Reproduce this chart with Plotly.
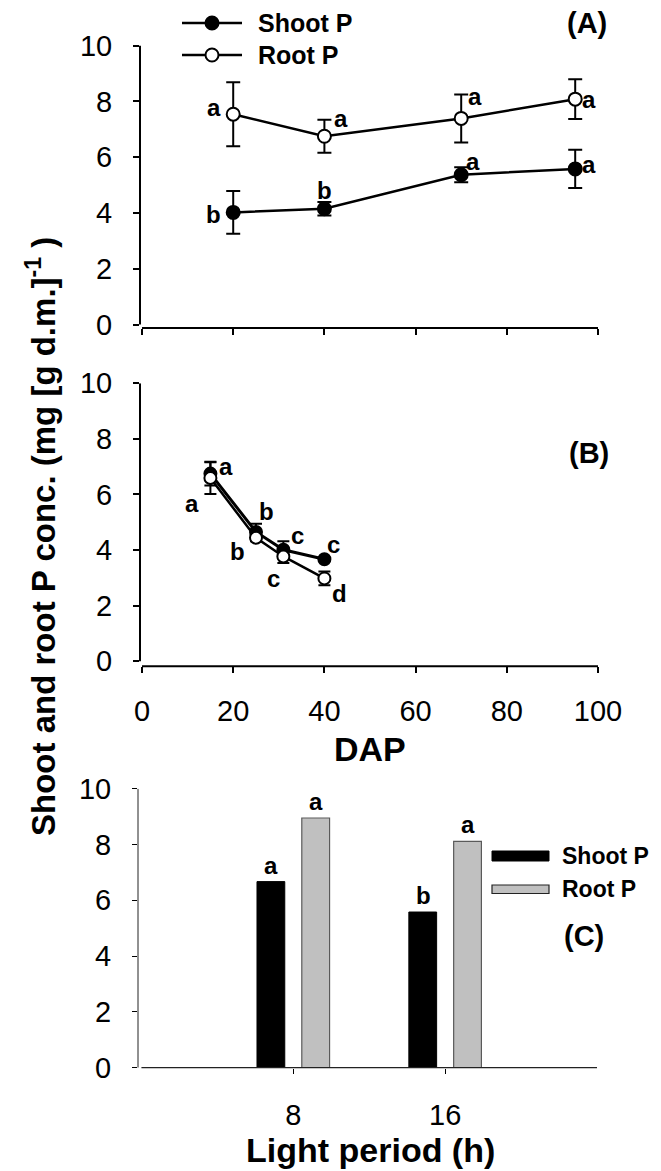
import plotly.graph_objects as go

# ---------------- data ----------------
# Panel A (DAP experiment 1)
dap_a = [20, 40, 70, 95]
shoot_a = [4.02, 4.15, 5.37, 5.58]
shoot_a_err = [0.77, 0.24, 0.27, 0.69]
root_a = [7.54, 6.75, 7.39, 8.08]
root_a_err = [1.15, 0.59, 0.86, 0.71]
shoot_a_letters = ["b", "b", "a", "a"]
root_a_letters = ["a", "a", "a", "a"]

# Panel B (DAP experiment 2)
dap_b = [15, 25, 31, 40]
shoot_b = [6.75, 4.65, 4.01, 3.67]
shoot_b_err = [0.43, 0.30, 0.31, 0.05]
root_b = [6.59, 4.44, 3.77, 2.98]
root_b_err = [0.57, 0.12, 0.24, 0.25]
shoot_b_letters = ["a", "b", "c", "c"]
root_b_letters = ["a", "b", "c", "d"]

# Panel C (light period)
light = [8, 16]
shoot_c = [6.67, 5.58]
root_c = [8.95, 8.11]
shoot_c_letters = ["a", "b"]
root_c_letters = ["a", "a"]

series_names = ["Shoot P", "Root P"]
y_ticks = [0, 2, 4, 6, 8, 10]
dap_ticks = [0, 20, 40, 60, 80, 100]

# ---------------- styling helpers ----------------
W, H = 661, 1171
OFF = 8  # page offset of the figure inside the browser window
FONT = "Arial, Liberation Sans, sans-serif"

def px_x(p):
    return (p - OFF) / W

def px_y(p):
    return 1 - (p - OFF) / H

fig = go.Figure()

# Panel A traces
fig.add_trace(go.Scatter(
    x=dap_a, y=root_a, mode="lines+markers", name=series_names[1],
    line=dict(color="black", width=2.5),
    marker=dict(symbol="circle", size=13, color="white", line=dict(color="black", width=2)),
    error_y=dict(type="data", array=root_a_err, color="black", thickness=2, width=7),
    xaxis="x", yaxis="y", showlegend=False))
fig.add_trace(go.Scatter(
    x=dap_a, y=shoot_a, mode="lines+markers", name=series_names[0],
    line=dict(color="black", width=2.5),
    marker=dict(symbol="circle", size=13, color="black", line=dict(color="black", width=2)),
    error_y=dict(type="data", array=shoot_a_err, color="black", thickness=2, width=7),
    xaxis="x", yaxis="y", showlegend=False))

# Panel B traces
fig.add_trace(go.Scatter(
    x=dap_b, y=shoot_b, mode="lines+markers", name=series_names[0],
    line=dict(color="black", width=3),
    marker=dict(symbol="circle", size=12, color="black", line=dict(color="black", width=2)),
    error_y=dict(type="data", array=shoot_b_err, color="black", thickness=2, width=6),
    xaxis="x2", yaxis="y2", showlegend=False))
fig.add_trace(go.Scatter(
    x=dap_b, y=root_b, mode="lines+markers", name=series_names[1],
    line=dict(color="black", width=2.5),
    marker=dict(symbol="circle", size=12, color="white", line=dict(color="black", width=2)),
    error_y=dict(type="data", array=root_b_err, color="black", thickness=2, width=6),
    xaxis="x2", yaxis="y2", showlegend=False))

# Panel C bars
fig.add_trace(go.Bar(
    x=light, y=shoot_c, name=series_names[0],
    marker=dict(color="black", line=dict(color="black", width=1)),
    xaxis="x3", yaxis="y3", showlegend=False))
fig.add_trace(go.Bar(
    x=light, y=root_c, name=series_names[1],
    marker=dict(color="#c0c0c0", line=dict(color="#5a5a5a", width=1.2)),
    xaxis="x3", yaxis="y3", showlegend=False))

# ---------------- axes ----------------
tickfont = dict(family=FONT, size=29, color="black")
common_y = dict(tickmode="array", tickvals=y_ticks, ticks="outside",
                ticklen=6, tickwidth=2, tickcolor="black", showgrid=False,
                zeroline=False, showline=False, tickfont=tickfont,
                ticklabelstandoff=15, automargin=False)

xa_dom = [px_x(140), px_x(598)]
fig.update_layout(
    xaxis=dict(domain=xa_dom, range=[-0.44, 100], tickvals=dap_ticks, ticks="outside",
               ticklen=6, tickwidth=2, tickcolor="black", showticklabels=False,
               showgrid=False, zeroline=False, showline=False, anchor="y", automargin=False),
    yaxis=dict(domain=[px_y(328), px_y(45.6)], range=[-0.125, 10], anchor="x", **common_y),
    xaxis2=dict(domain=xa_dom, range=[-0.44, 100], tickvals=dap_ticks, ticks="outside",
                ticklen=6, tickwidth=2, tickcolor="black", showticklabels=True,
                tickfont=tickfont, ticklabelstandoff=13, automargin=False,
                showgrid=False, zeroline=False, showline=False, anchor="y2"),
    yaxis2=dict(domain=[px_y(666.2), px_y(383.3)], range=[-0.18, 10], anchor="x2", **common_y),
    xaxis3=dict(domain=[px_x(138), px_x(597)], range=[-0.18, 24], tickvals=light,
                ticks="outside", ticklen=5, tickwidth=1, tickcolor="black",
                tickfont=tickfont, ticklabelstandoff=16, automargin=False,
                showgrid=False, zeroline=False, showline=False, anchor="y3"),
    yaxis3=dict(domain=[px_y(1067.7), px_y(788.7)], range=[0, 10], anchor="x3",
                **{**common_y, "tickwidth": 1, "ticklen": 5}),
    barmode="group", bargap=0.41, bargroupgap=0.38,
    width=W, height=H, margin=dict(l=0, r=0, t=0, b=0, autoexpand=False),
    paper_bgcolor="white", plot_bgcolor="white",
    font=dict(family=FONT, color="black"),
    showlegend=False,
)

shapes = []
# axis lines panels A and B
for xr, yr in (("x", "y"), ("x2", "y2")):
    shapes.append(dict(type="line", xref=f"{xr} domain", yref=yr, x0=0, x1=0, y0=0, y1=10,
                       line=dict(color="black", width=2)))
    shapes.append(dict(type="line", xref=xr, yref=f"{yr} domain", x0=0, x1=100, y0=0, y1=0,
                       line=dict(color="black", width=2)))
# panel C axis lines
shapes.append(dict(type="line", xref="x3 domain", yref="y3", x0=0, x1=0, y0=0, y1=10,
                   line=dict(color="#222", width=1)))
shapes.append(dict(type="line", xref="x3", yref="y3 domain", x0=0, x1=24, y0=0, y1=0,
                   line=dict(color="#222", width=1.3)))

# manual legend for panel A
for yy, fill in ((23, "black"), (55, "white")):
    shapes.append(dict(type="line", xref="paper", yref="paper", x0=px_x(182), x1=px_x(242),
                       y0=px_y(yy), y1=px_y(yy), line=dict(color="black", width=2.5)))
    shapes.append(dict(type="circle", xref="paper", yref="paper", xsizemode="pixel",
                       ysizemode="pixel", xanchor=px_x(212), yanchor=px_y(yy),
                       x0=-6.5, x1=6.5, y0=-6.5, y1=6.5, fillcolor=fill,
                       line=dict(color="black", width=2)))
# manual legend for panel C
shapes.append(dict(type="rect", xref="paper", yref="paper", x0=px_x(492), x1=px_x(549),
                   y0=px_y(861), y1=px_y(851), fillcolor="black", line=dict(color="black", width=1)))
shapes.append(dict(type="rect", xref="paper", yref="paper", x0=px_x(492), x1=px_x(549),
                   y0=px_y(893.5), y1=px_y(885), fillcolor="#c0c0c0", line=dict(color="#222", width=1.2)))

ann = []
bold = lambda s: f"<b>{s}</b>"
LET = dict(family=FONT, size=24, color="black")

def letter(xr, yr, x, y, t, dx, dy):
    ann.append(dict(xref=xr, yref=yr, x=x, y=y, text=bold(t), showarrow=False,
                    xshift=dx, yshift=dy, font=LET))

# Panel A letters
a_root_off = [(-19, 7), (17, 18), (14, 22), (14, 0)]
a_shoot_off = [(-20, -2), (0, 18), (12, 13), (14, 4)]
for x, y, t, (dx, dy) in zip(dap_a, root_a, root_a_letters, a_root_off):
    letter("x", "y", x, y, t, dx, dy)
for x, y, t, (dx, dy) in zip(dap_a, shoot_a, shoot_a_letters, a_shoot_off):
    letter("x", "y", x, y, t, dx, dy)

# Panel B letters
b_shoot_off = [(16, 7), (10, 20), (14, 14), (9, 15)]
b_root_off = [(-18, -25), (-19, -14), (-10, -22), (15, -15)]
for x, y, t, (dx, dy) in zip(dap_b, shoot_b, shoot_b_letters, b_shoot_off):
    letter("x2", "y2", x, y, t, dx, dy)
for x, y, t, (dx, dy) in zip(dap_b, root_b, root_b_letters, b_root_off):
    letter("x2", "y2", x, y, t, dx, dy)

# Panel C letters (above bars)
for x, y, t in zip(light, shoot_c, shoot_c_letters):
    ann.append(dict(xref="x3", yref="y3", x=x, y=y, text=bold(t), showarrow=False,
                    xshift=-22, yanchor="bottom", yshift=1, font=LET))
for x, y, t in zip(light, root_c, root_c_letters):
    ann.append(dict(xref="x3", yref="y3", x=x, y=y, text=bold(t), showarrow=False,
                    xshift=23, yanchor="bottom", yshift=1, font=LET))

def ptext(x, y, t, size, xanchor="center", angle=0):
    ann.append(dict(xref="paper", yref="paper", x=px_x(x), y=px_y(y), text=t,
                    showarrow=False, xanchor=xanchor, yanchor="middle", textangle=angle,
                    font=dict(family=FONT, size=size, color="black")))

# legend texts
ptext(256, 23, bold(series_names[0]), 25, "left")
ptext(256, 55, bold(series_names[1]), 25, "left")
ptext(560, 856, bold(series_names[0]), 23, "left")
ptext(560, 889, bold(series_names[1]), 23, "left")
# panel labels
ptext(587, 23, bold("(A)"), 29)
ptext(589, 453, bold("(B)"), 29)
ptext(562, 936, bold("(C)"), 29, "left")
# axis titles
ptext(370, 749, bold("DAP"), 34)
ptext(370, 1150, bold("Light period (h)"), 34)
ptext(41, 537, bold("Shoot and root P conc. (mg [g d.m.]<sup>-1</sup> )"), 33, angle=-90)

fig.update_layout(shapes=shapes, annotations=ann)
fig.write_html("out.html")
